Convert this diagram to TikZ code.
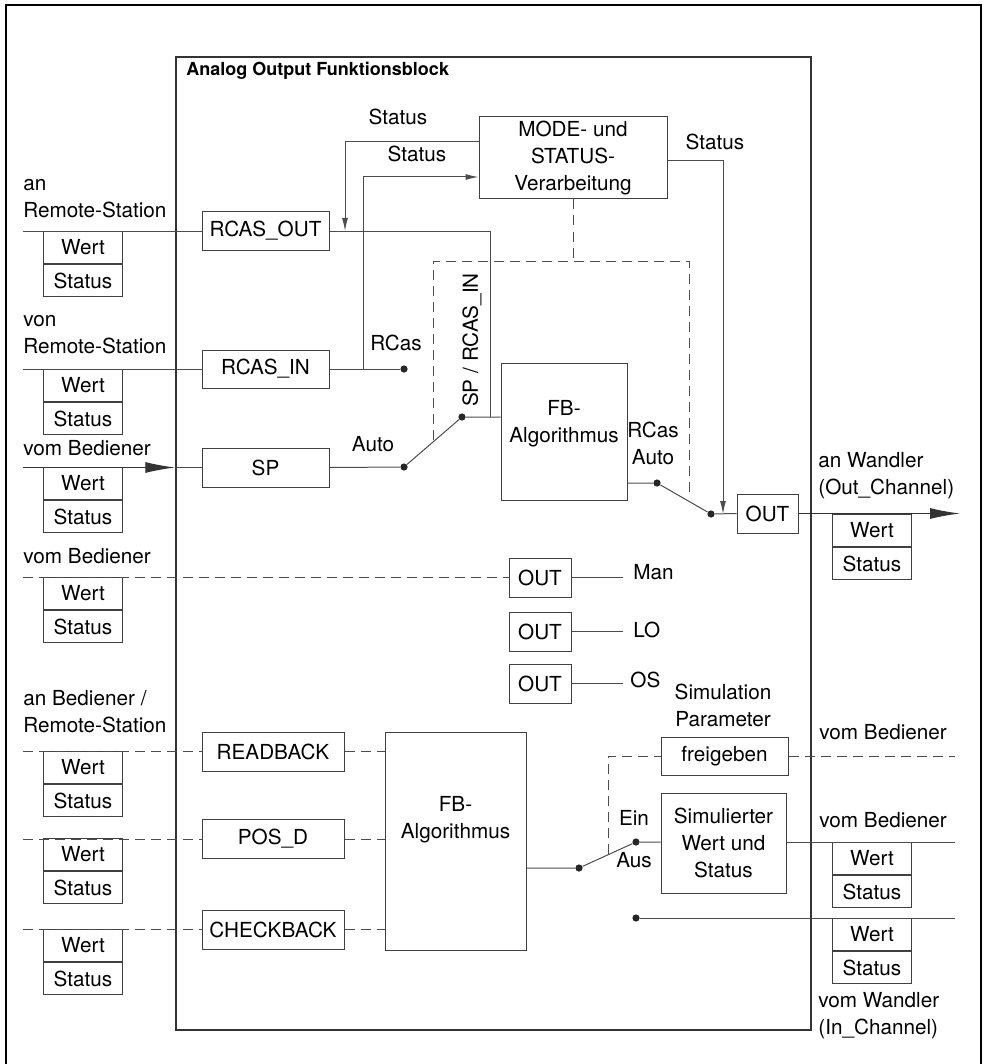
\documentclass[tikz,border=0pt]{standalone}
\usepackage{fontspec}
\setmainfont{TeX Gyre Heros}
\usetikzlibrary{positioning, arrows.meta, calc}

\begin{document}
\begin{tikzpicture}[
    x=0.5pt, y=-0.5pt,
    font=\fontsize{10.35}{13.5}\selectfont,
    block/.style={rectangle, draw=black!75, line width=0.5pt, inner sep=0pt, align=center},
    cell/.style={rectangle, draw=black!75, line width=0.5pt, minimum width=39.5pt, minimum height=16pt, inner sep=0pt},
    dot/.style={circle, fill=black!85, inner sep=0pt, minimum size=3.6pt},
    line/.style={draw=black!70, line width=0.5pt},
    arrow/.style={line, -{Latex[length=6.5pt,width=3pt]}},
    bigarrow/.style={draw=black!80, line width=0.6pt, -{Latex[length=15pt,width=5.5pt]}},
    dline/.style={line, dash pattern=on 5pt off 3pt},
    lbl/.style={inner sep=0pt, align=center},
    side/.style={inner sep=0pt, anchor=west, align=left}
]
    \useasboundingbox (0,0) rectangle (984,1064);
    \draw[line width=1pt] (6,1064) -- (6,5) -- (981,5) -- (981,1064);

    % function block
    \node [draw=black!80, line width=0.75pt, minimum width=317.5pt, minimum height=486.5pt] (fblock) at (493.5,543.5) {};
    \node [side, font=\fontsize{9}{11}\selectfont\bfseries] (title) at (186,71) {Analog Output Funktionsblock};

    \node [block, minimum width=94pt, minimum height=41pt] (mode) at (573,158) {MODE- und\\STATUS-\\Verarbeitung};
    \node [block, minimum width=63.5pt, minimum height=19pt] (rout) at (265.5,231) {RCAS\_OUT};
    \node [block, minimum width=63.5pt, minimum height=19pt] (rin) at (265.5,369) {RCAS\_IN};
    \node [block, minimum width=63.5pt, minimum height=19.5pt] (sp) at (265.5,467.5) {SP};
    \node [block, minimum width=63pt, minimum height=68.5pt] (fb1) at (564,431.5) {};
    \node [lbl] (fb1t) at ([yshift=4pt]fb1.center) {FB-\\Algorithmus};
    \node [block, minimum width=30.5pt, minimum height=19.5pt] (out) at (767.5,513.5) {OUT};

    \node [block, minimum width=31pt, minimum height=19.5pt] (outman) at (540,577.5) {OUT};
    \node [block, minimum width=31pt, minimum height=19.5pt] (outlo) at (540,631.5) {OUT};
    \node [block, minimum width=31pt, minimum height=19.5pt] (outos) at (540,683.5) {OUT};
    \node [side, inner xsep=5pt] (man) at (623,572) {Man};
    \node [side, inner xsep=5pt] (lo) at (623,630) {LO};
    \node [side, inner xsep=3.5pt] (os) at (623,680) {OS};

    \node [block, minimum width=71pt, minimum height=19.5pt] (readback) at (273,751.5) {READBACK};
    \node [block, minimum width=71pt, minimum height=19.5pt] (posd) at (273,839) {POS\_D};
    \node [block, minimum width=71pt, minimum height=19.5pt] (checkback) at (273,929.5) {CHECKBACK};
    \node [block, minimum width=70.5pt, minimum height=109pt] (fb2) at (455.5,841) {};
    \node [lbl] (fb2t) at ([yshift=10.5pt]fb2.center) {FB-\\Algorithmus};
    \node [block, minimum width=63.5pt, minimum height=19pt] (frei) at (724.5,756) {freigeben};
    \node [block, minimum width=62.5pt, minimum height=50pt] (sim) at (723.5,843) {Simulierter\\Wert und\\Status};

    % Wert / Status
    \foreach \n/\x/\y in {c1/43/231, c2/43/369, c3/43/467, c4/43/577, c5/43/751, c6/43/838, c7/43/929, c8/832/514, c9/832/842, c10/832/918} {
        \node [cell, anchor=north west] (\n-w) at (\x,\y) {Wert};
        \node [cell, below=0pt of \n-w] (\n-s) {Status};
    }

    % switch points
    \node [dot] (rcas) at (404,369) {};
    \node [dot] (auto) at (404,467) {};
    \node [dot] (sw1) at (462,417) {};
    \node [dot] (rasw) at (657,483) {};
    \node [dot] (outsw) at (711,514) {};
    \node [dot] (sw2a) at (579,868) {};
    \node [dot] (sw2b) at (636,842) {};
    \node [dot] (inch) at (636,918) {};

    \coordinate (e1) at (23,231);
    \coordinate (e2) at (23,369);
    \coordinate (e3) at (23,467.5);
    \coordinate (e4) at (23,577.5);
    \coordinate (e5) at (23,751.5);
    \coordinate (e6) at (23,839);
    \coordinate (e7) at (23,929.5);
    \coordinate (wand) at (960,513.5);
    \coordinate (r1) at (955,756);
    \coordinate (r2) at (955,842);
    \coordinate (r3) at (955,918);
    \coordinate (s1) at (345,142);
    \coordinate (s2) at (363,177);
    \coordinate (s3) at (723,161);
    \coordinate (j1) at (490,231);
    \coordinate (d0) at (433,440);
    \coordinate (d1) at (433,261);
    \coordinate (d2) at (689,261);
    \coordinate (d3) at (689,497);
    \coordinate (d4) at (608,756);
    \coordinate (d5) at (608,854);

    % upper part
    \draw [line] (e1) -- (rout.west);
    \draw [line] (rout.east) -- (j1) -- (j1 |- sw1);
    \draw [line] (e2) -- (rin.west);
    \draw [line] (rin.east) -- (rcas);
    \draw [bigarrow] (e3) -- (e3 -| fblock.west);
    \draw [line] (e3 -| fblock.west) -- (sp.west);
    \draw [line] (sp.east) -- (auto) -- (sw1) -- (sw1 -| fb1.west);
    \draw [arrow] (mode.west |- s1) -- (s1) -- (s1 |- rout.east);
    \draw [arrow] (rin.east -| s2) -- (s2) -- (s2 -| mode.west);
    \draw [arrow] (mode.east |- s3) -- (s3) -- (s3 |- outsw);
    \draw [dline] (mode.south) -- (mode.south |- d1);
    \draw [dline] (d0) -- (d1) -- (d2) -- (d3);
    \draw [line] (fb1.east |- rasw) -- (rasw) -- (outsw) -- (out.west);
    \draw [bigarrow] (out.east) -- (wand);

    \draw [dline] (e4) -- (outman.west);
    \draw [line] (outman.east) -- (outman.east -| man.west);
    \draw [line] (outlo.east) -- (outlo.east -| lo.west);
    \draw [line] (outos.east) -- (outos.east -| os.west);

    % lower part
    \draw [dline] (e5) -- (readback.west);
    \draw [dline] (readback.east) -- (readback.east -| fb2.west);
    \draw [dline] (e6) -- (posd.west);
    \draw [dline] (posd.east) -- (posd.east -| fb2.west);
    \draw [dline] (e7) -- (checkback.west);
    \draw [dline] (checkback.east) -- (checkback.east -| fb2.west);
    \draw [line] (fb2.east |- sw2a) -- (sw2a) -- (sw2b) -- (sim.west |- sw2b);
    \draw [dline] (d5) -- (d4) -- (frei.west);
    \draw [dline] (frei.east) -- (r1);
    \draw [line] (sim.east |- r2) -- (r2);
    \draw [line] (inch) -- (r3);

    % labels
    \node [lbl] (st1) at (398,117) {Status};
    \node [lbl] (st2) at (417,154) {Status};
    \node [lbl] (st3) at (715,142) {Status};
    \node [lbl, rotate=90] (sprin) at (472,340) {SP / RCAS\_IN};
    \node [lbl] (rcasl) at (396,343) {RCas};
    \node [lbl] (autol) at (373,444) {Auto};
    \node [lbl] (raut) at (653,443) {RCas\\Auto};
    \node [lbl] (simp) at (723,705) {Simulation\\Parameter};
    \node [lbl] (ein) at (634,818) {Ein};
    \node [lbl] (aus) at (634,860) {Aus};

    \node [side] (l1) at (23,199) {an\\Remote-Station};
    \node [side] (l2) at (23,335) {von\\Remote-Station};
    \node [side] (l3) at (23,448) {vom Bediener};
    \node [side] (l4) at (23,556) {vom Bediener};
    \node [side] (l5) at (23,712) {an Bediener /\\Remote-Station};
    \node [side] (w1) at (818,476) {an Wandler\\(Out\_Channel)};
    \node [side] (w2) at (819,732) {vom Bediener};
    \node [side] (w3) at (819,820) {vom Bediener};
    \node [side] (w4) at (818,1016) {vom Wandler\\(In\_Channel)};
\end{tikzpicture}
\end{document}
